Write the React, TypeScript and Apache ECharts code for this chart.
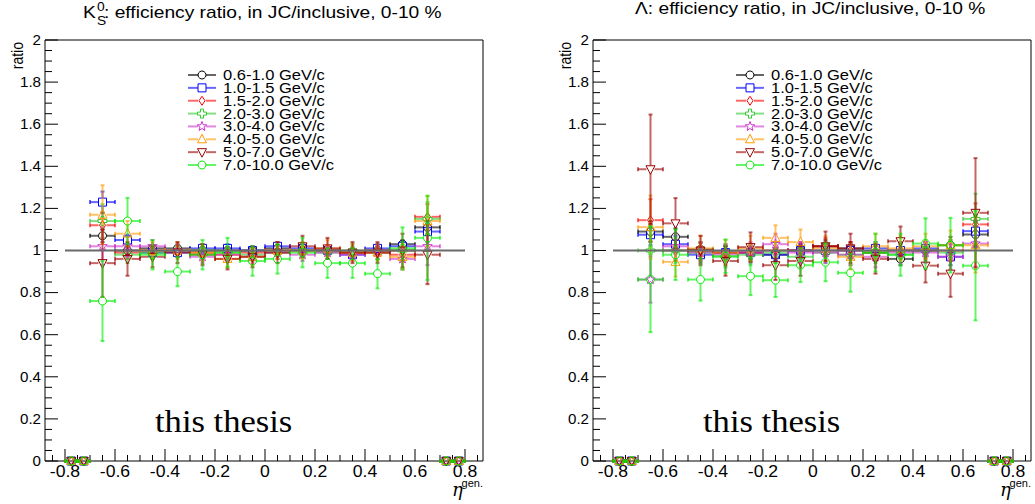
import React, { useEffect, useRef } from "react";
import * as echarts from "echarts";

// ---------- data ----------
const etaCenters = [-0.775, -0.725, -0.65, -0.55, -0.45, -0.35, -0.25, -0.15, -0.05, 0.05, 0.15, 0.25, 0.35, 0.45, 0.55, 0.65, 0.725, 0.775];
const etaHalfWidths = [0.025, 0.025, 0.05, 0.05, 0.05, 0.05, 0.05, 0.05, 0.05, 0.05, 0.05, 0.05, 0.05, 0.05, 0.05, 0.05, 0.025, 0.025];
const ptBins = ["0.6-1.0 GeV/c", "1.0-1.5 GeV/c", "1.5-2.0 GeV/c", "2.0-3.0 GeV/c", "3.0-4.0 GeV/c", "4.0-5.0 GeV/c", "5.0-7.0 GeV/c", "7.0-10.0 GeV/c"];
const xTickLabels = ["-0.8", "-0.6", "-0.4", "-0.2", "0", "0.2", "0.4", "0.6", "0.8"];
const yTickLabels = ["0", "0.2", "0.4", "0.6", "0.8", "1", "1.2", "1.4", "1.6", "1.8", "2"];
const refLine = [[-0.8, 1], [0.8, 1]];

// K0S panel
const k0s_06_10 = [0, 0, 1.07, 1.00, 1.01, 1.01, 1.00, 1.00, 1.00, 1.01, 1.00, 1.00, 0.99, 1.00, 1.03, 1.11, 0, 0];
const k0s_06_10_err = [0, 0, 0.03, 0.02, 0.015, 0.015, 0.015, 0.015, 0.015, 0.015, 0.015, 0.015, 0.015, 0.015, 0.02, 0.03, 0, 0];
const k0s_10_15 = [0, 0, 1.23, 1.05, 0.99, 0.99, 1.01, 1.01, 1.00, 1.02, 1.01, 1.00, 0.98, 1.01, 1.02, 1.09, 0, 0];
const k0s_10_15_err = [0, 0, 0.05, 0.025, 0.02, 0.02, 0.02, 0.02, 0.02, 0.02, 0.02, 0.02, 0.02, 0.02, 0.025, 0.05, 0, 0];
const k0s_15_20 = [0, 0, 1.12, 0.99, 1.00, 1.00, 0.99, 0.98, 0.99, 1.00, 1.00, 1.00, 0.99, 1.00, 0.98, 1.16, 0, 0];
const k0s_15_20_err = [0, 0, 0.06, 0.03, 0.02, 0.02, 0.02, 0.02, 0.02, 0.02, 0.02, 0.02, 0.02, 0.02, 0.03, 0.06, 0, 0];
const k0s_20_30 = [0, 0, 1.14, 0.98, 0.99, 1.00, 1.00, 0.99, 0.98, 0.99, 1.00, 0.99, 1.00, 0.99, 1.00, 1.15, 0, 0];
const k0s_20_30_err = [0, 0, 0.08, 0.04, 0.03, 0.03, 0.03, 0.03, 0.03, 0.03, 0.03, 0.03, 0.03, 0.03, 0.04, 0.08, 0, 0];
const k0s_30_40 = [0, 0, 1.02, 1.02, 1.02, 1.00, 0.97, 0.98, 0.97, 0.99, 0.98, 0.99, 0.98, 0.99, 0.96, 1.02, 0, 0];
const k0s_30_40_err = [0, 0, 0.09, 0.05, 0.03, 0.03, 0.03, 0.03, 0.03, 0.03, 0.03, 0.03, 0.03, 0.03, 0.05, 0.09, 0, 0];
const k0s_40_50 = [0, 0, 1.17, 1.08, 1.00, 1.00, 0.99, 0.96, 0.97, 1.00, 1.00, 1.01, 0.99, 0.99, 0.97, 1.14, 0, 0];
const k0s_40_50_err = [0, 0, 0.14, 0.06, 0.04, 0.04, 0.04, 0.04, 0.04, 0.04, 0.04, 0.04, 0.04, 0.04, 0.06, 0.12, 0, 0];
const k0s_50_70 = [0, 0, 0.94, 0.96, 0.97, 0.99, 0.98, 0.96, 0.97, 0.99, 1.02, 1.01, 0.99, 0.99, 1.00, 0.98, 0, 0];
const k0s_50_70_err = [0, 0, 0.16, 0.08, 0.05, 0.05, 0.05, 0.05, 0.05, 0.05, 0.05, 0.05, 0.05, 0.05, 0.08, 0.14, 0, 0];
const k0s_70_100 = [0, 0, 0.76, 1.14, 0.98, 0.90, 0.98, 0.99, 0.95, 0.96, 0.99, 0.94, 0.94, 0.89, 1.01, 1.06, 0, 0];
const k0s_70_100_err = [0, 0, 0.19, 0.11, 0.07, 0.07, 0.07, 0.07, 0.07, 0.07, 0.07, 0.07, 0.07, 0.07, 0.10, 0.20, 0, 0];

// Lambda panel
const lam_06_10 = [0, 0, 1.09, 1.065, 1.005, 0.99, 0.99, 0.98, 1.00, 1.02, 1.01, 0.99, 0.96, 1.00, 1.025, 1.076, 0, 0];
const lam_06_10_err = [0, 0, 0.05, 0.04, 0.03, 0.03, 0.03, 0.03, 0.03, 0.03, 0.03, 0.03, 0.03, 0.03, 0.04, 0.06, 0, 0];
const lam_10_15 = [0, 0, 1.075, 1.03, 0.98, 0.99, 0.99, 0.98, 1.00, 1.00, 1.00, 1.01, 1.00, 1.01, 0.97, 1.092, 0, 0];
const lam_10_15_err = [0, 0, 0.05, 0.04, 0.03, 0.03, 0.03, 0.03, 0.03, 0.03, 0.03, 0.03, 0.03, 0.03, 0.04, 0.05, 0, 0];
const lam_15_20 = [0, 0, 1.144, 1.00, 1.00, 0.99, 0.99, 1.00, 1.00, 1.02, 1.00, 0.99, 1.00, 1.00, 1.00, 1.124, 0, 0];
const lam_15_20_err = [0, 0, 0.10, 0.05, 0.04, 0.04, 0.04, 0.04, 0.04, 0.04, 0.04, 0.04, 0.04, 0.04, 0.05, 0.10, 0, 0];
const lam_20_30 = [0, 0, 1.00, 1.00, 0.99, 0.97, 0.98, 0.99, 0.97, 0.99, 0.98, 0.99, 0.98, 1.00, 0.99, 1.15, 0, 0];
const lam_20_30_err = [0, 0, 0.12, 0.06, 0.05, 0.05, 0.05, 0.05, 0.05, 0.05, 0.05, 0.05, 0.05, 0.05, 0.06, 0.12, 0, 0];
const lam_30_40 = [0, 0, 0.862, 1.02, 0.99, 0.98, 0.99, 1.03, 0.99, 0.99, 0.98, 0.97, 0.99, 0.99, 0.97, 1.033, 0, 0];
const lam_30_40_err = [0, 0, 0.11, 0.06, 0.05, 0.05, 0.05, 0.05, 0.05, 0.05, 0.05, 0.05, 0.05, 0.05, 0.06, 0.11, 0, 0];
const lam_40_50 = [0, 0, 1.111, 0.946, 1.01, 0.99, 1.01, 1.06, 1.04, 1.01, 0.97, 1.02, 1.01, 1.02, 1.025, 1.025, 0, 0];
const lam_40_50_err = [0, 0, 0.15, 0.07, 0.06, 0.06, 0.06, 0.06, 0.06, 0.06, 0.06, 0.06, 0.06, 0.06, 0.07, 0.13, 0, 0];
const lam_50_70 = [0, 0, 1.386, 1.129, 1.00, 0.95, 1.016, 0.93, 0.95, 1.02, 1.01, 0.96, 1.044, 0.928, 0.89, 1.179, 0, 0];
const lam_50_70_err = [0, 0, 0.26, 0.12, 0.07, 0.07, 0.07, 0.07, 0.07, 0.07, 0.07, 0.07, 0.07, 0.08, 0.11, 0.26, 0, 0];
const lam_70_100 = [0, 0, 0.862, 0.98, 0.862, 0.973, 0.878, 0.859, 0.93, 0.944, 0.894, 0.99, 0.98, 1.033, 1.025, 0.928, 0, 0];
const lam_70_100_err = [0, 0, 0.25, 0.12, 0.10, 0.08, 0.09, 0.08, 0.08, 0.09, 0.09, 0.09, 0.10, 0.12, 0.13, 0.26, 0, 0];

const k0sValues = [k0s_06_10, k0s_10_15, k0s_15_20, k0s_20_30, k0s_30_40, k0s_40_50, k0s_50_70, k0s_70_100];
const k0sErrors = [k0s_06_10_err, k0s_10_15_err, k0s_15_20_err, k0s_20_30_err, k0s_30_40_err, k0s_40_50_err, k0s_50_70_err, k0s_70_100_err];
const lamValues = [lam_06_10, lam_10_15, lam_15_20, lam_20_30, lam_30_40, lam_40_50, lam_50_70, lam_70_100];
const lamErrors = [lam_06_10_err, lam_10_15_err, lam_15_20_err, lam_20_30_err, lam_30_40_err, lam_40_50_err, lam_50_70_err, lam_70_100_err];

// ---------- styles ----------
const COLORS = ["#000000", "#0000ff", "#ff0000", "#33cc33", "#cc33cc", "#ff9900", "#990000", "#00ee00"];
const MARKERS = ["circle", "square", "diamond", "cross", "star", "triup", "tridown", "circle"];
const SANS = "'Liberation Sans', Arial, Helvetica, sans-serif";
const SERIF = "'Liberation Serif', 'Times New Roman', serif";
const FRAMES = [
  { left: 45, top: 40, width: 438, height: 421 },
  { left: 593, top: 40, width: 438, height: 421 },
];
const OFF = [0, 548];
const X_MIN = -0.88;
const X_MAX = 0.872;

function rgba(hex: string, a: number) {
  const n = parseInt(hex.slice(1), 16);
  return `rgba(${(n >> 16) & 255},${(n >> 8) & 255},${n & 255},${a})`;
}

function marker(kind: string, cx: number, cy: number, color: string): any {
  const style = { fill: "none", stroke: color, lineWidth: 1 };
  const poly = (pts: number[][]) => ({ type: "polygon", shape: { points: pts.map(p => [cx + p[0], cy + p[1]]) }, style });
  switch (kind) {
    case "circle":
      return { type: "circle", shape: { cx, cy, r: 4 }, style };
    case "square":
      return { type: "rect", shape: { x: cx - 4, y: cy - 4, width: 8, height: 8 }, style };
    case "diamond":
      return poly([[0, -4.5], [3, 0], [0, 4.5], [-3, 0]]);
    case "cross": {
      const a = 1.5, b = 4.5;
      return poly([[-a, -b], [a, -b], [a, -a], [b, -a], [b, a], [a, a], [a, b], [-a, b], [-a, a], [-b, a], [-b, -a], [-a, -a]]);
    }
    case "star": {
      const pts: number[][] = [];
      for (let i = 0; i < 10; i++) {
        const rr = i % 2 === 0 ? 5 : 2.1;
        const ang = -Math.PI / 2 + (i * Math.PI) / 5;
        pts.push([rr * Math.cos(ang), rr * Math.sin(ang)]);
      }
      return poly(pts);
    }
    case "triup":
      return poly([[0, -5], [4.5, 3.5], [-4.5, 3.5]]);
    case "tridown":
      return poly([[0, 5], [4.5, -3.5], [-4.5, -3.5]]);
  }
  return { type: "circle", shape: { cx, cy, r: 4 }, style };
}

function makeDataRender(color: string, kind: string) {
  return (params: any, api: any) => {
    const x = api.value(0), y = api.value(1), e = api.value(2), hw = api.value(3);
    const c = api.coord([x, y]);
    const top = api.coord([x, y + e])[1];
    const bot = api.coord([x, y - e])[1];
    const l = api.coord([x - hw, y])[0];
    const r = api.coord([x + hw, y])[0];
    const g = 4, cap = 2;
    const children: any[] = [];
    const seg = (x1: number, y1: number, x2: number, y2: number) =>
      children.push({ type: "line", shape: { x1, y1, x2, y2 }, style: { stroke: rgba(color, 0.6), lineWidth: 2 } });
    if (c[1] - g > top) { seg(c[0], c[1] - g, c[0], top); seg(c[0] - cap, top, c[0] + cap, top); }
    if (bot > c[1] + g) { seg(c[0], c[1] + g, c[0], bot); seg(c[0] - cap, bot, c[0] + cap, bot); }
    if (c[0] - g > l) { seg(l, c[1], c[0] - g, c[1]); seg(l, c[1] - cap, l, c[1] + cap); }
    if (r > c[0] + g) { seg(c[0] + g, c[1], r, c[1]); seg(r, c[1] - cap, r, c[1] + cap); }
    children.push(marker(kind, c[0], c[1], color));
    return { type: "group", children };
  };
}

function buildOption() {
  const grid = FRAMES.map(f => ({ ...f, show: true, borderColor: "#000", borderWidth: 1, backgroundColor: "transparent" }));
  const xAxis = [0, 1].map(i => ({ type: "value", gridIndex: i, min: X_MIN, max: X_MAX, show: false }));
  const yAxis = [0, 1].map(i => ({ type: "value", gridIndex: i, min: 0, max: 2, show: false }));

  // tick data: [value, isMajor, labelIndex]
  const xTickData: number[][] = [];
  for (let k = -17; k <= 17; k++) {
    const major = k % 4 === 0;
    xTickData.push([k * 0.05, 0, major ? 1 : 0, major ? k / 4 + 4 : -1]);
  }
  const yTickData: number[][] = [];
  for (let k = 0; k <= 40; k++) {
    const major = k % 4 === 0;
    yTickData.push([X_MIN, k * 0.05, major ? 1 : 0, major ? k / 4 : -1]);
  }

  const series: any[] = [];
  [0, 1].forEach(p => {
    series.push({
      type: "custom", xAxisIndex: p, yAxisIndex: p, silent: true, z: 5,
      data: xTickData,
      renderItem: (params: any, api: any) => {
        const v = api.value(0);
        const major = api.value(2) === 1;
        const pt = api.coord([v, 0]);
        const children: any[] = [{ type: "line", shape: { x1: pt[0], y1: pt[1], x2: pt[0], y2: pt[1] - (major ? 12 : 6) }, style: { stroke: "#000", lineWidth: 1 } }];
        if (major) {
          children.push({ type: "text", x: pt[0], y: pt[1] + 11, scaleX: 1.1,
            style: { text: xTickLabels[api.value(3)], fill: "#000", fontSize: 16, fontFamily: SANS, align: "center", verticalAlign: "middle" } });
        }
        return { type: "group", children };
      },
    });
    series.push({
      type: "custom", xAxisIndex: p, yAxisIndex: p, silent: true, z: 5,
      data: yTickData,
      renderItem: (params: any, api: any) => {
        const v = api.value(1);
        const major = api.value(2) === 1;
        const pt = api.coord([X_MIN, v]);
        const children: any[] = [{ type: "line", shape: { x1: pt[0], y1: pt[1], x2: pt[0] + (major ? 13 : 7), y2: pt[1] }, style: { stroke: "#000", lineWidth: 1 } }];
        if (major) {
          children.push({ type: "text", x: pt[0] - 4, y: pt[1], scaleX: 1.08,
            style: { text: yTickLabels[api.value(3)], fill: "#000", fontSize: 14, fontFamily: SANS, align: "right", verticalAlign: "middle" } });
        }
        return { type: "group", children };
      },
    });
    const vals = p === 0 ? k0sValues : lamValues;
    const errs = p === 0 ? k0sErrors : lamErrors;
    vals.forEach((arr, s) => {
      series.push({
        type: "custom", name: ptBins[s], xAxisIndex: p, yAxisIndex: p, silent: true, z: 10 + s,
        data: arr.map((v, i) => [etaCenters[i], v, errs[s][i], etaHalfWidths[i]]),
        renderItem: makeDataRender(COLORS[s], MARKERS[s]),
      });
    });
    series.push({
      type: "line", xAxisIndex: p, yAxisIndex: p, silent: true, z: 30,
      data: refLine, symbol: "none", lineStyle: { color: "#6a6a6a", width: 2 },
    });
  });

  const graphic: any[] = [];
  // titles
  graphic.push({ type: "text", x: 83, y: 13, scaleX: 1.2, style: { text: "K", fill: "#000", fontSize: 16, fontFamily: SANS, align: "left", verticalAlign: "middle" } });
  graphic.push({ type: "text", x: 97, y: 6.5, scaleX: 1.15, style: { text: "0", fill: "#000", fontSize: 12, fontFamily: SANS, align: "left", verticalAlign: "middle" } });
  graphic.push({ type: "text", x: 97, y: 20.5, scaleX: 1.15, style: { text: "S", fill: "#000", fontSize: 12, fontFamily: SANS, align: "left", verticalAlign: "middle" } });
  graphic.push({ type: "text", x: 104, y: 13, scaleX: 1.2, style: { text: ": efficiency ratio, in JC/inclusive, 0-10 %", fill: "#000", fontSize: 16, fontFamily: SANS, align: "left", verticalAlign: "middle" } });
  graphic.push({ type: "text", x: 635, y: 8.5, scaleX: 1.2, style: { text: "Λ: efficiency ratio, in JC/inclusive, 0-10 %", fill: "#000", fontSize: 16, fontFamily: SANS, align: "left", verticalAlign: "middle" } });

  [0, 1].forEach(p => {
    const o = OFF[p];
    // y title
    graphic.push({ type: "text", x: 17 + o, y: 42, rotation: Math.PI / 2, scaleY: 1.18, style: { text: "ratio", fill: "#000", fontSize: 14, fontFamily: SANS, align: "right", verticalAlign: "middle" } });
    // x title
    graphic.push({ type: "text", x: 452 + o, y: 489.7, style: { text: "η", fill: "#000", fontSize: 18, fontFamily: "'DejaVu Serif', serif", fontStyle: "italic", align: "left", verticalAlign: "middle" } });
    graphic.push({ type: "text", x: 483 + o, y: 483, style: { text: "gen.", fill: "#000", fontSize: 11, fontFamily: SANS, align: "right", verticalAlign: "middle" } });
    // watermark
    graphic.push({ type: "text", x: 155 + o, y: 420.8, scaleX: 1.08, style: { text: "this thesis", fill: "#000", fontSize: 32, fontFamily: SERIF, align: "left", verticalAlign: "middle" } });
    // legend
    ptBins.forEach((name, i) => {
      const y = 75 + i * 12.86;
      const mx = 202 + o;
      const ls = { stroke: rgba(COLORS[i], 0.6), lineWidth: 2 };
      graphic.push({ type: "line", shape: { x1: 188 + o, y1: y, x2: mx - 4, y2: y }, style: ls });
      graphic.push({ type: "line", shape: { x1: mx + 4, y1: y, x2: 216 + o, y2: y }, style: { ...ls } });
      graphic.push(marker(MARKERS[i], mx, y, COLORS[i]));
      graphic.push({ type: "text", x: 223 + o, y: y, scaleX: 1.18, style: { text: name, fill: "#000", fontSize: 14, fontFamily: SANS, align: "left", verticalAlign: "middle" } });
    });
  });

  return { animation: false, backgroundColor: "#fff", grid, xAxis, yAxis, series, graphic };
}

export default function App() {
  const ref = useRef<HTMLDivElement>(null);
  useEffect(() => {
    if (!ref.current) return;
    const chart = echarts.init(ref.current, null, { renderer: "svg", width: 1035, height: 504 });
    chart.setOption(buildOption() as any);
    return () => chart.dispose();
  }, []);
  return <div ref={ref} style={{ position: "fixed", left: 0, top: 0, width: 1035, height: 504, background: "#fff" }} />;
}
